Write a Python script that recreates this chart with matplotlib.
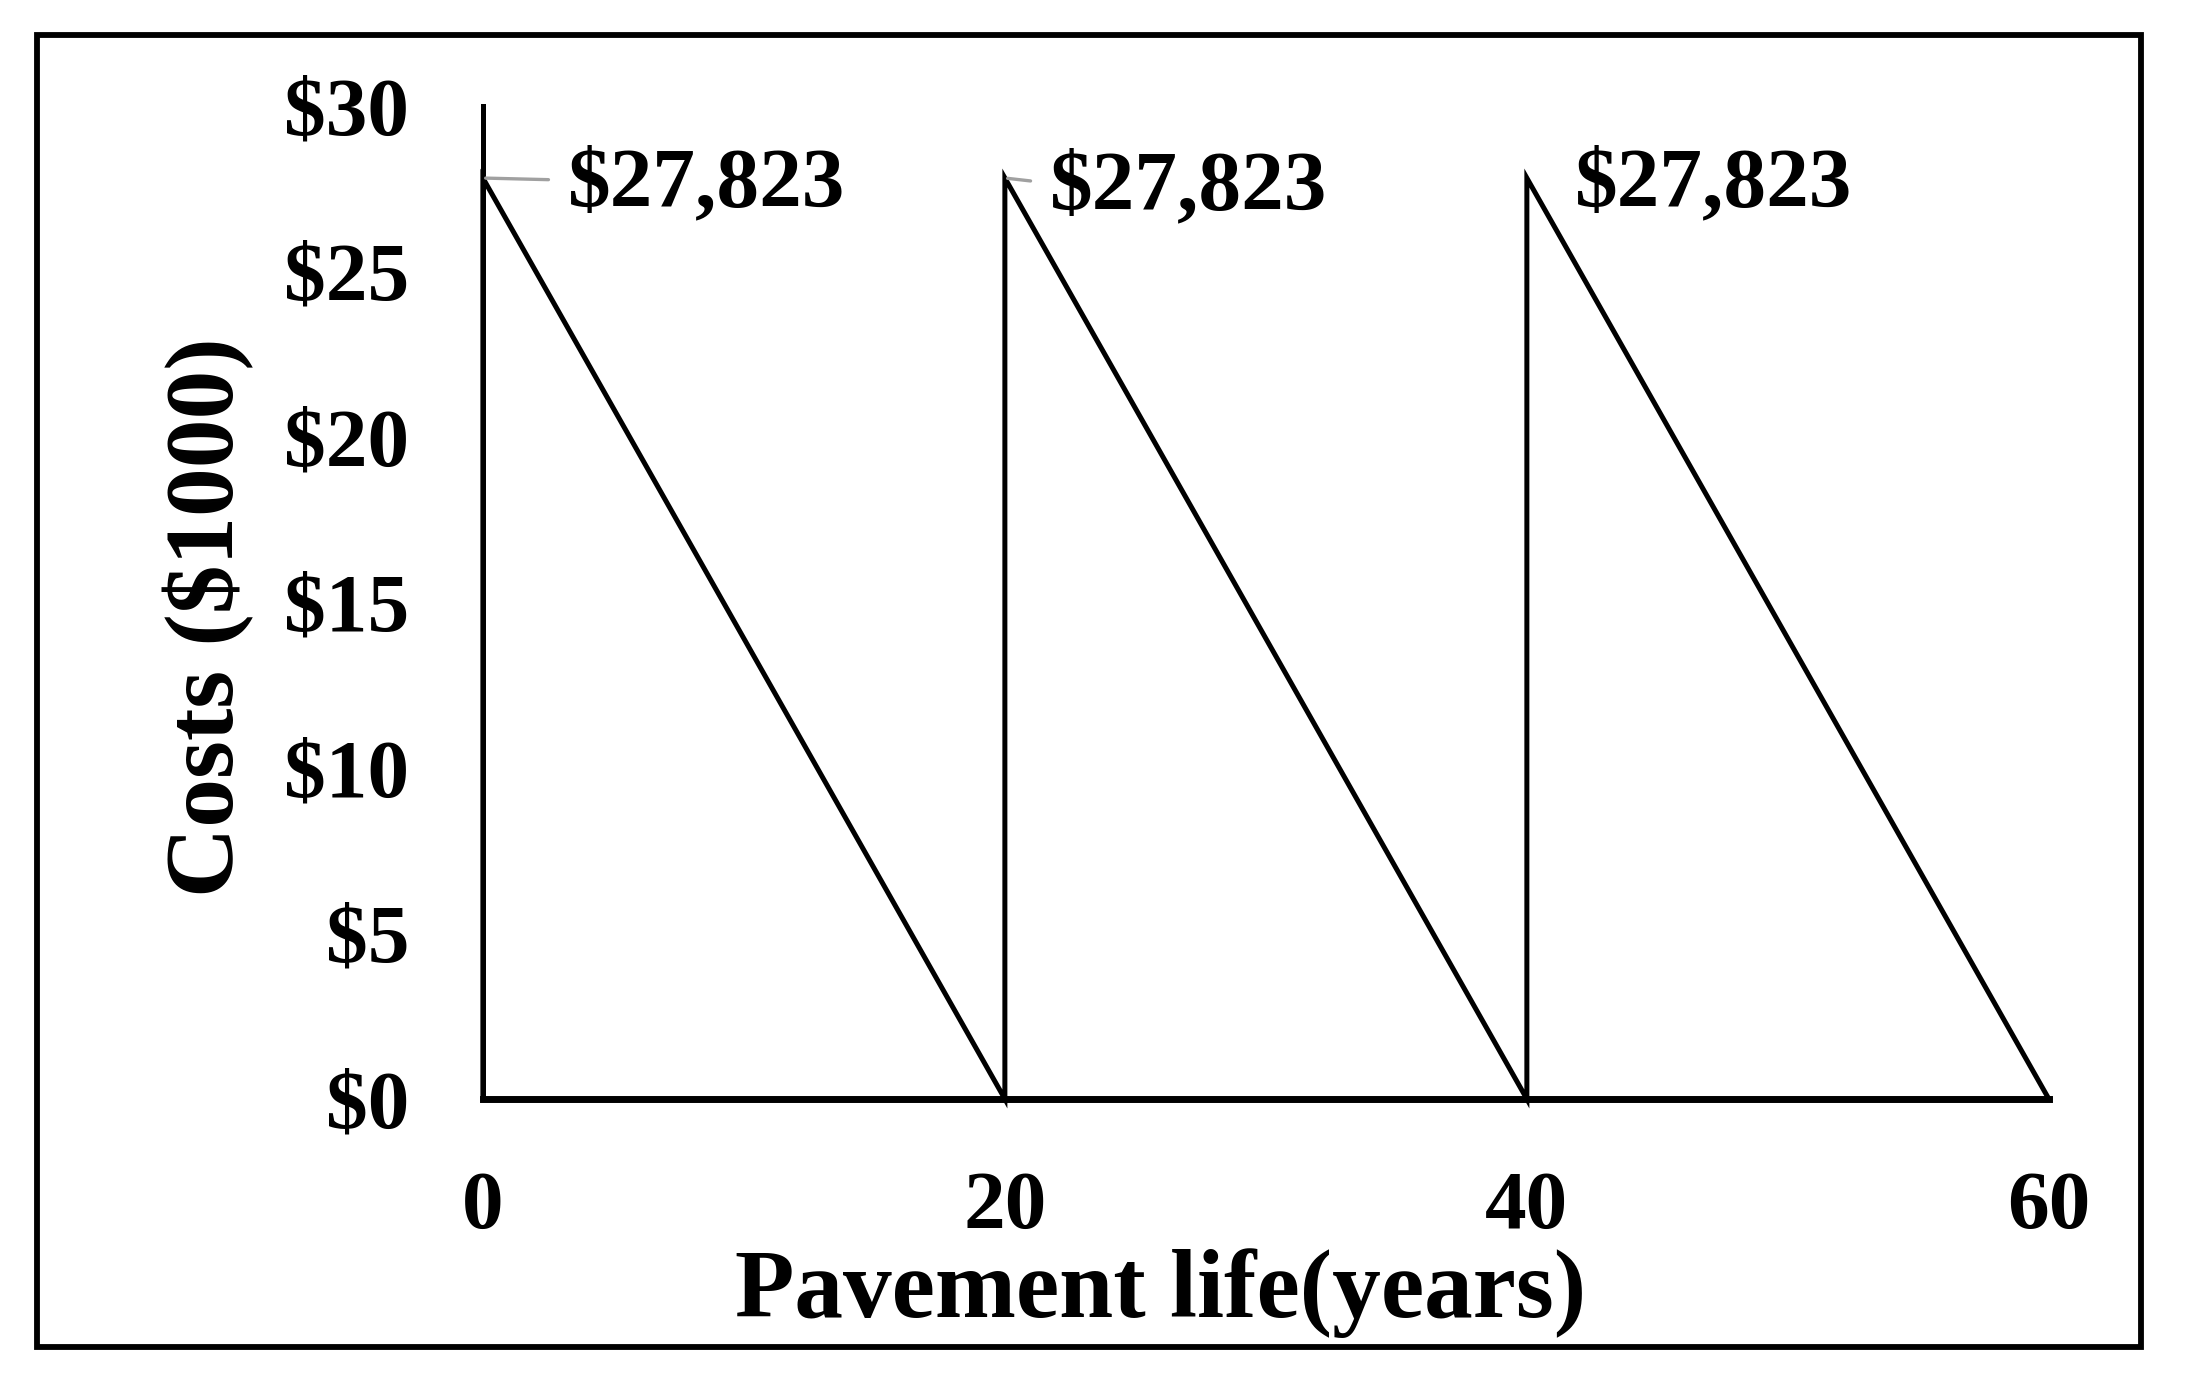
import matplotlib.pyplot as plt
from matplotlib.patches import Rectangle

# sawtooth of costs over pavement life
years = [0, 0, 20, 20, 40, 40, 60]
costs = [0, 27.823, 0, 27.823, 0, 27.823, 0]

peak_years = [0, 20, 40]
peak_costs = [27.823, 27.823, 27.823]
peak_labels = ["$27,823", "$27,823", "$27,823"]

x_ticks = [0, 20, 40, 60]
x_tick_labels = ["0", "20", "40", "60"]
y_ticks = [0, 5, 10, 15, 20, 25, 30]
y_tick_labels = ["$0", "$5", "$10", "$15", "$20", "$25", "$30"]

plt.rcParams["font.family"] = ["Liberation Serif", "DejaVu Serif"]
plt.rcParams["font.weight"] = "bold"

fig = plt.figure(figsize=(21.88, 13.89), dpi=100)
ax = fig.add_axes([0.2207, 0.2088, 0.7157, 0.7149])

# outer frame around the whole chart
fig.patches.append(Rectangle((37 / 2188, 1 - 1347 / 1389), (2141 - 37) / 2188, (1347 - 35) / 1389,
                             transform=fig.transFigure, fill=False, edgecolor="black", linewidth=4.2))

ax.plot(years, costs, color="black", linewidth=3.6, clip_on=False, solid_joinstyle="miter")

ax.set_xlim(0, 60)
ax.set_ylim(0, 30)
ax.set_xticks(x_ticks)
ax.set_xticklabels(x_tick_labels)
ax.set_yticks(y_ticks)
ax.set_yticklabels(y_tick_labels)
ax.tick_params(axis="both", length=0, labelsize=60)
ax.tick_params(axis="x", pad=52)
ax.tick_params(axis="y", pad=53)

for s in ["top", "right"]:
    ax.spines[s].set_visible(False)
ax.spines["left"].set_linewidth(3.6)
ax.spines["bottom"].set_linewidth(5)

offsets = [(85, -28), (45, -31), (48, -28)]
leaders = [True, True, False]
for xv, yv, lab, off, lead in zip(peak_years, peak_costs, peak_labels, offsets, leaders):
    props = None
    if lead:
        props = dict(arrowstyle="-", color="#a0a0a0", lw=2.4, shrinkA=12, shrinkB=2,
                     relpos=(0, 0.57))
    ax.annotate(lab, xy=(xv, yv), xytext=off, textcoords="offset pixels",
                ha="left", va="baseline", fontsize=61.5, fontweight="bold",
                arrowprops=props, annotation_clip=False)

ax.set_xlabel("Pavement life(years)", fontsize=70, fontweight="bold")
ax.xaxis.set_label_coords(0.433, -0.2195)
ax.xaxis.label.set_va("baseline")

ax.set_ylabel("Costs ($1000)", fontsize=70, fontweight="bold")
ax.yaxis.set_label_coords(-0.175, 0.485)
ax.yaxis.label.set_va("center")

fig.savefig("out.png", dpi=100)
